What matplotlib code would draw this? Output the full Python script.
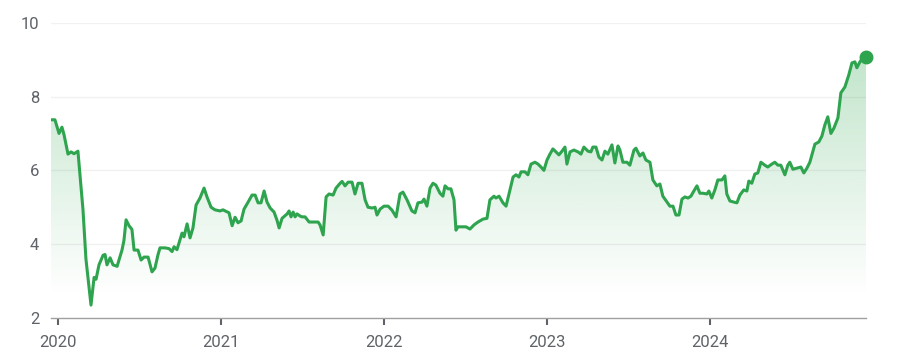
import numpy as np
import matplotlib
matplotlib.use("Agg")
import matplotlib.pyplot as plt
from matplotlib.patches import Polygon

plt.rcParams['font.family'] = ['Roboto', 'DejaVu Sans']

# time as decimal years
years = [2019.959, 2019.983, 2020.008, 2020.026, 2020.039, 2020.063, 2020.082, 2020.100, 2020.118, 2020.124,
         2020.155, 2020.173, 2020.204, 2020.223, 2020.235, 2020.253, 2020.278, 2020.290, 2020.302, 2020.321,
         2020.339, 2020.364, 2020.394, 2020.406, 2020.419, 2020.437, 2020.455, 2020.468, 2020.492, 2020.511,
         2020.529, 2020.554, 2020.578, 2020.596, 2020.615, 2020.627, 2020.658, 2020.682, 2020.701, 2020.713,
         2020.731, 2020.762, 2020.774, 2020.793, 2020.811, 2020.829, 2020.848, 2020.872, 2020.897, 2020.915,
         2020.940, 2020.964, 2020.995, 2021.013, 2021.050, 2021.069, 2021.087, 2021.105, 2021.124, 2021.142,
         2021.167, 2021.191, 2021.210, 2021.228, 2021.246, 2021.265, 2021.283, 2021.302, 2021.326, 2021.344,
         2021.357, 2021.375, 2021.406, 2021.418, 2021.430, 2021.443, 2021.455, 2021.467, 2021.486, 2021.498,
         2021.516, 2021.541, 2021.559, 2021.596, 2021.608, 2021.627, 2021.645, 2021.663, 2021.688, 2021.706,
         2021.731, 2021.743, 2021.761, 2021.780, 2021.804, 2021.822, 2021.841, 2021.865, 2021.884, 2021.902,
         2021.927, 2021.945, 2021.957, 2021.976, 2022.000, 2022.025, 2022.049, 2022.074, 2022.098, 2022.116,
         2022.141, 2022.171, 2022.190, 2022.208, 2022.233, 2022.245, 2022.263, 2022.282, 2022.300, 2022.318,
         2022.343, 2022.361, 2022.374, 2022.392, 2022.410, 2022.429, 2022.441, 2022.453, 2022.478, 2022.502,
         2022.527, 2022.551, 2022.576, 2022.607, 2022.631, 2022.649, 2022.674, 2022.686, 2022.705, 2022.729,
         2022.748, 2022.772, 2022.791, 2022.809, 2022.827, 2022.840, 2022.864, 2022.882, 2022.901, 2022.925,
         2022.944, 2022.962, 2022.980, 2022.999, 2023.017, 2023.035, 2023.054, 2023.072, 2023.091, 2023.109,
         2023.121, 2023.140, 2023.164, 2023.189, 2023.207, 2023.225, 2023.250, 2023.268, 2023.280, 2023.299,
         2023.317, 2023.336, 2023.354, 2023.372, 2023.397, 2023.415, 2023.434, 2023.446, 2023.464, 2023.489,
         2023.507, 2023.532, 2023.544, 2023.568, 2023.587, 2023.605, 2023.630, 2023.648, 2023.672, 2023.691,
         2023.709, 2023.734, 2023.752, 2023.771, 2023.789, 2023.808, 2023.826, 2023.844, 2023.863, 2023.881,
         2023.899, 2023.918, 2023.936, 2023.954, 2023.979, 2023.991, 2024.009, 2024.028, 2024.046, 2024.071,
         2024.089, 2024.101, 2024.120, 2024.144, 2024.163, 2024.181, 2024.205, 2024.224, 2024.236, 2024.254,
         2024.273, 2024.291, 2024.310, 2024.334, 2024.352, 2024.377, 2024.395, 2024.414, 2024.432, 2024.457,
         2024.475, 2024.487, 2024.506, 2024.530, 2024.555, 2024.573, 2024.592, 2024.610, 2024.641, 2024.665,
         2024.684, 2024.702, 2024.720, 2024.739, 2024.757, 2024.782, 2024.800, 2024.825, 2024.849, 2024.868,
         2024.886, 2024.898, 2024.917, 2024.935, 2024.954]
values = [7.37, 7.37, 7.00, 7.17, 6.96, 6.44, 6.50, 6.45, 6.50, 6.52,
          4.93, 3.60, 2.35, 3.10, 3.05, 3.44, 3.70, 3.72, 3.44, 3.63,
          3.44, 3.40, 3.84, 4.10, 4.66, 4.50, 4.40, 3.84, 3.84, 3.57,
          3.65, 3.65, 3.25, 3.35, 3.72, 3.90, 3.90, 3.88, 3.80, 3.93,
          3.85, 4.30, 4.20, 4.55, 4.17, 4.44, 5.06, 5.25, 5.52, 5.28,
          5.00, 4.93, 4.90, 4.93, 4.85, 4.50, 4.73, 4.58, 4.63, 4.95,
          5.14, 5.33, 5.33, 5.12, 5.12, 5.44, 5.14, 4.98, 4.87, 4.65,
          4.44, 4.70, 4.82, 4.90, 4.74, 4.87, 4.74, 4.82, 4.76, 4.74,
          4.74, 4.60, 4.60, 4.60, 4.52, 4.25, 5.28, 5.36, 5.33, 5.52,
          5.65, 5.70, 5.58, 5.68, 5.68, 5.36, 5.65, 5.65, 5.20, 5.00,
          4.98, 5.00, 4.79, 4.95, 5.03, 5.03, 4.92, 4.74, 5.36, 5.41,
          5.20, 4.90, 4.85, 5.12, 5.14, 5.22, 5.03, 5.52, 5.65, 5.60,
          5.38, 5.30, 5.58, 5.50, 5.50, 5.20, 4.38, 4.47, 4.47, 4.47,
          4.41, 4.52, 4.60, 4.68, 4.70, 5.20, 5.30, 5.25, 5.30, 5.12,
          5.03, 5.47, 5.82, 5.88, 5.82, 5.96, 5.96, 5.88, 6.17, 6.22,
          6.17, 6.09, 6.00, 6.28, 6.44, 6.58, 6.50, 6.42, 6.52, 6.63,
          6.17, 6.50, 6.55, 6.50, 6.44, 6.63, 6.52, 6.50, 6.63, 6.63,
          6.36, 6.28, 6.52, 6.44, 6.69, 6.20, 6.66, 6.55, 6.22, 6.22,
          6.14, 6.55, 6.60, 6.39, 6.47, 6.28, 6.22, 5.74, 5.58, 5.63,
          5.30, 5.14, 5.03, 5.03, 4.79, 4.79, 5.22, 5.28, 5.25, 5.30,
          5.44, 5.58, 5.38, 5.38, 5.36, 5.44, 5.25, 5.47, 5.74, 5.74,
          5.85, 5.36, 5.17, 5.14, 5.12, 5.33, 5.47, 5.44, 5.71, 5.65,
          5.90, 5.93, 6.22, 6.14, 6.09, 6.17, 6.22, 6.14, 6.14, 5.88,
          6.14, 6.22, 6.03, 6.06, 6.09, 5.93, 6.06, 6.22, 6.71, 6.77,
          6.93, 7.23, 7.45, 7.00, 7.14, 7.42, 8.10, 8.26, 8.59, 8.91,
          8.94, 8.78, 8.94, 9.05, 9.08]

year_ticks = [2020, 2021, 2022, 2023, 2024]
y_ticks = [2, 4, 6, 8, 10]

green = '#2ea44f'
text_grey = '#5f6368'

fig = plt.figure(figsize=(9.03, 3.64), dpi=100)
ax = fig.add_axes([0.0565, 0.1264, 0.9025, 0.8112])

x = np.array(years)
y = np.array(values)

ax.set_xlim(x[0], x[-1])
ax.set_ylim(2, 10)

# gradient fill under the line
grad = np.zeros((256, 1, 4))
rgb = matplotlib.colors.to_rgb('#34a853')
grad[:, 0, :3] = rgb
yy = np.linspace(10, 2, 256)
grad[:, 0, 3] = np.clip((yy - 2.6) / (9.1 - 2.6), 0, 1) * 0.30
img = ax.imshow(grad, extent=[x[0], x[-1], 2, 10], aspect='auto', origin='upper', zorder=1)
verts = np.vstack([[x[0], 2], np.column_stack([x, y]), [x[-1], 2]])
poly = Polygon(verts, closed=True, facecolor='none', edgecolor='none')
ax.add_patch(poly)
img.set_clip_path(poly)

ax.plot(x, y, color=green, lw=2.2, zorder=3, solid_joinstyle='round', solid_capstyle='round')
ax.plot(x[-1], y[-1], 'o', color=green, ms=9, zorder=4, clip_on=False)

for g in y_ticks[1:]:
    ax.axhline(g, color='#f1f1f1', lw=1, zorder=0)

for s in ['top', 'right', 'left']:
    ax.spines[s].set_visible(False)
ax.spines['bottom'].set_color('#a0a0a0')
ax.spines['bottom'].set_linewidth(1)

ax.set_xticks(year_ticks)
ax.set_xticklabels([str(t) for t in year_ticks])
ax.set_yticks(y_ticks)
ax.tick_params(axis='x', length=5, width=1.5, color='#5f6368', pad=7,
               labelsize=12, labelcolor=text_grey)
ax.tick_params(axis='y', length=0, pad=8.5, labelsize=12, labelcolor=text_grey)

fig.savefig('out.png', dpi=100)
